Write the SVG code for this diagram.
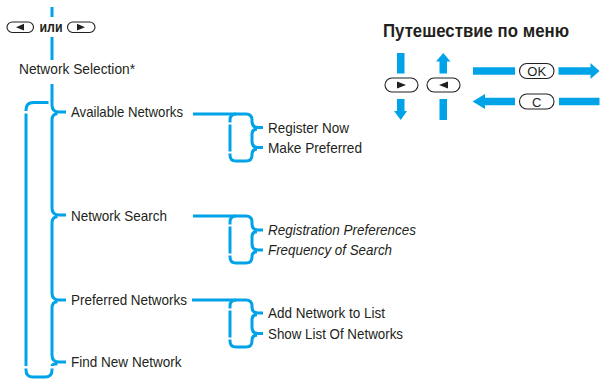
<svg xmlns="http://www.w3.org/2000/svg" width="601" height="383" viewBox="0 0 601 383">
<style>
.ln{fill:none;stroke:#00a3e8;stroke-width:3;stroke-linecap:butt;stroke-linejoin:round}
.bl{fill:#00a3e8}
.t{font-family:"Liberation Sans",Arial,sans-serif;font-size:15px;fill:#231f20}
.it{font-style:italic}
.pill{fill:#fff;stroke:#231f20;stroke-width:1.1}
.tri{fill:#231f20}
.pt{font-family:"Liberation Sans",Arial,sans-serif;font-size:13px;fill:#231f20;text-anchor:middle}
</style>
<rect width="601" height="383" fill="#fff"/>

<g id="connectors">
  <path class="ln" d="M52,7 V17 M52,37 V60"/>
  <path class="ln" d="M52,84 V105 Q52,112 59,112 H66"/>
  <path class="ln" d="M57.5,113.8 Q52,114 52,120 V208 Q52,215 59,215 H66"/>
  <path class="ln" d="M57.5,216.8 Q52,217 52,223 V293 Q52,300 59,300 H66"/>
  <path class="ln" d="M57.5,301.8 Q52,302 52,308 V355 Q52,362 59,362 H66"/>
  <path class="ln" d="M57.5,363.8 Q52,364 52,366"/>
  <path class="ln" d="M52,368.5 V370 Q52,377 45,377 H33 Q26,377 26,370 V368.5"/>
  <path class="ln" d="M26,366 V113.5"/>
  <path class="ln" d="M26,111 V110 Q26,102.5 33.5,102.5 H48.5"/>
  <path class="ln" d="M193,114 H246 Q252,114 252,120 V121.5 Q252,127.5 258,127.5 H263"/>
  <path class="ln" d="M257,129.3 Q252,129.5 252,134 V141.5 Q252,147.5 258,147.5 H263"/>
  <path class="ln" d="M257,149.3 Q252,149.5 252,154 V155 Q252,161 246,161 H236 Q230,161 230,155 V153.5"/>
  <path class="ln" d="M230,151.5 V124.5"/>
  <path class="ln" d="M230,122.5 V120 Q230,114 236,114"/>
  <path class="ln" d="M193,216 H246 Q252,216 252,222 V224 Q252,230 258,230 H263"/>
  <path class="ln" d="M257,231.8 Q252,232 252,236.5 V244 Q252,250 258,250 H263"/>
  <path class="ln" d="M257,251.8 Q252,252 252,256.5 V257 Q252,263 246,263 H236 Q230,263 230,257 V255.5"/>
  <path class="ln" d="M230,253.5 V226.5"/>
  <path class="ln" d="M230,224.5 V222 Q230,216 236,216"/>
  <path class="ln" d="M192,300 H246 Q252,300 252,306 V307 Q252,313 258,313 H263"/>
  <path class="ln" d="M257,314.8 Q252,315 252,319.5 V327.5 Q252,333.5 258,333.5 H263"/>
  <path class="ln" d="M257,335.3 Q252,335.5 252,340 V341 Q252,347 246,347 H236 Q230,347 230,341 V339.5"/>
  <path class="ln" d="M230,337.5 V310.5"/>
  <path class="ln" d="M230,308.5 V306 Q230,300 236,300"/>
</g>

<g id="keys-top">
  <rect class="pill" x="7" y="22" width="26.5" height="10.5" rx="5.25"/>
  <polygon class="tri" points="16,27.2 24,23.8 24,30.6"/>
  <text class="t" x="39.5" y="32" font-size="13" font-weight="bold" textLength="23" lengthAdjust="spacingAndGlyphs">или</text>
  <rect class="pill" x="67.5" y="22" width="27.5" height="10.5" rx="5.25"/>
  <polygon class="tri" points="85,27.2 77,23.8 77,30.6"/>
</g>

<g id="node-network-selection"><text class="t" x="19" y="74" textLength="116" lengthAdjust="spacingAndGlyphs">Network Selection*</text></g>
<g id="node-available"><text class="t" x="71" y="117" textLength="112" lengthAdjust="spacingAndGlyphs">Available Networks</text></g>
<g id="node-search"><text class="t" x="71" y="221" textLength="96" lengthAdjust="spacingAndGlyphs">Network Search</text></g>
<g id="node-preferred"><text class="t" x="71" y="305" textLength="116" lengthAdjust="spacingAndGlyphs">Preferred Networks</text></g>
<g id="node-find"><text class="t" x="71" y="367" textLength="110.5" lengthAdjust="spacingAndGlyphs">Find New Network</text></g>
<g id="node-register"><text class="t" x="268" y="133" textLength="81" lengthAdjust="spacingAndGlyphs">Register Now</text></g>
<g id="node-make"><text class="t" x="268" y="153" textLength="94" lengthAdjust="spacingAndGlyphs">Make Preferred</text></g>
<g id="node-regpref"><text class="t it" x="268" y="235" textLength="148" lengthAdjust="spacingAndGlyphs">Registration Preferences</text></g>
<g id="node-freq"><text class="t it" x="268" y="255" textLength="124" lengthAdjust="spacingAndGlyphs">Frequency of Search</text></g>
<g id="node-add"><text class="t" x="268" y="318" textLength="117" lengthAdjust="spacingAndGlyphs">Add Network to List</text></g>
<g id="node-show"><text class="t" x="268" y="338.5" textLength="135" lengthAdjust="spacingAndGlyphs">Show List Of Networks</text></g>

<g id="legend">
  <text x="383" y="37" font-family="'Liberation Sans',Arial,sans-serif" font-size="18" font-weight="bold" fill="#231f20" textLength="186" lengthAdjust="spacingAndGlyphs">Путешествие по меню</text>
  <rect class="bl" x="397" y="53" width="7.5" height="20.5"/>
  <rect class="pill" x="385" y="78" width="33" height="14" rx="7"/>
  <polygon class="tri" points="397,81.5 397,88.5 406,85"/>
  <rect class="bl" x="397" y="99" width="7.5" height="12.5"/>
  <polygon class="bl" points="394,111 407,111 400.75,120"/>
  <polygon class="bl" points="443.25,53 436,61.5 450.5,61.5"/>
  <rect class="bl" x="439.5" y="61" width="7.5" height="12.5"/>
  <rect class="pill" x="427" y="78" width="33" height="14" rx="7"/>
  <polygon class="tri" points="439,85 448,81.5 448,88.5"/>
  <rect class="bl" x="439.5" y="99" width="7.5" height="21"/>
  <rect class="bl" x="473" y="67.25" width="42" height="7.5"/>
  <rect class="pill" x="519.5" y="63.5" width="34.5" height="15" rx="7.5"/>
  <text class="pt" x="536.75" y="76">OK</text>
  <rect class="bl" x="558.5" y="67.25" width="32.5" height="7.5"/>
  <polygon class="bl" points="590.5,63 599.5,71 590.5,79"/>
  <polygon class="bl" points="472.5,101.5 485,94 485,109"/>
  <rect class="bl" x="484.5" y="97.75" width="30.5" height="7.5"/>
  <rect class="pill" x="519.5" y="94" width="34.5" height="15" rx="7.5"/>
  <text class="pt" x="536.75" y="106.5">C</text>
  <rect class="bl" x="559" y="97.75" width="40.5" height="7.5"/>
</g>
</svg>
